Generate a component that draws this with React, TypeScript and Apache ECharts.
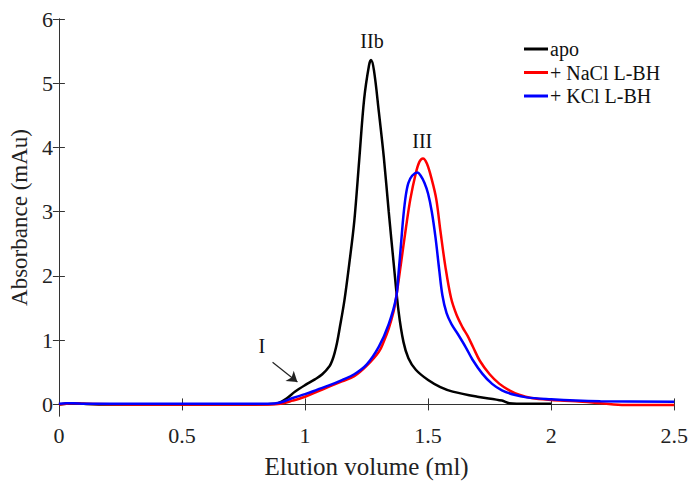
import React, { useEffect, useRef } from "react";
import * as echarts from "echarts";

const FONT = "'Liberation Serif', 'Times New Roman', serif";

const seriesNames = ["apo", "+ NaCl L-BH", "+ KCl L-BH"];

const apoX = [0, 0.03, 0.06, 0.1, 0.2, 0.4, 0.6, 0.8, 0.88, 0.92, 0.96, 1.0, 1.04, 1.07, 1.1, 1.11, 1.12, 1.13, 1.14, 1.16, 1.18, 1.2, 1.22, 1.24, 1.26, 1.268, 1.28, 1.3, 1.32, 1.34, 1.36, 1.38, 1.4, 1.42, 1.45, 1.5, 1.55, 1.6, 1.7, 1.8, 1.83, 1.9, 2.0];
const apoY = [0, 0.01, 0.02, 0.01, 0, 0, 0, 0, 0.01, 0.08, 0.2, 0.3, 0.39, 0.47, 0.6, 0.68, 0.8, 0.96, 1.17, 1.62, 2.2, 2.85, 3.8, 4.75, 5.28, 5.36, 5.2, 4.55, 3.85, 3.0, 2.2, 1.45, 0.97, 0.72, 0.54, 0.38, 0.27, 0.2, 0.12, 0.06, 0.02, 0.01, 0.01];

const naclX = [0, 0.03, 0.06, 0.1, 0.3, 0.6, 0.85, 0.9, 0.95, 1.0, 1.05, 1.1, 1.15, 1.2, 1.25, 1.3, 1.32, 1.34, 1.36, 1.37, 1.39, 1.41, 1.428, 1.45, 1.465, 1.479, 1.495, 1.515, 1.533, 1.55, 1.57, 1.593, 1.615, 1.64, 1.66, 1.683, 1.71, 1.75, 1.79, 1.83, 1.87, 1.92, 2.0, 2.1, 2.2, 2.3, 2.5];
const naclY = [0, 0.01, 0.02, 0.01, 0, 0, 0, 0.01, 0.06, 0.12, 0.2, 0.28, 0.36, 0.44, 0.6, 0.82, 0.98, 1.18, 1.45, 1.66, 2.2, 2.75, 3.2, 3.6, 3.78, 3.83, 3.75, 3.5, 3.2, 2.7, 2.15, 1.66, 1.4, 1.2, 1.07, 0.89, 0.68, 0.47, 0.32, 0.22, 0.15, 0.1, 0.07, 0.05, 0.02, -0.01, -0.01];

const kclX = [0, 0.03, 0.06, 0.1, 0.3, 0.6, 0.85, 0.9, 0.95, 1.0, 1.05, 1.1, 1.15, 1.2, 1.25, 1.3, 1.34, 1.37, 1.38, 1.39, 1.4, 1.41, 1.42, 1.435, 1.456, 1.47, 1.485, 1.5, 1.515, 1.53, 1.545, 1.558, 1.575, 1.595, 1.62, 1.653, 1.68, 1.72, 1.76, 1.8, 1.85, 1.9, 2.0, 2.1, 2.2, 2.5];
const kclY = [0.01, 0.02, 0.02, 0.01, 0.01, 0.01, 0.01, 0.03, 0.1, 0.16, 0.23, 0.3, 0.38, 0.47, 0.62, 0.9, 1.25, 1.66, 2.05, 2.5, 2.95, 3.27, 3.45, 3.56, 3.61, 3.56, 3.45, 3.28, 3.0, 2.6, 2.1, 1.7, 1.42, 1.25, 1.1, 0.89, 0.7, 0.48, 0.32, 0.22, 0.15, 0.11, 0.08, 0.06, 0.05, 0.04];

const xTicks = [0, 0.5, 1, 1.5, 2, 2.5];
const yTicks = [0, 1, 2, 3, 4, 5, 6];

const peakLabels = ["I", "IIb", "III"];
const peakLabelX = [0.824, 1.272, 1.476];
const peakLabelY = [0.914, 5.66, 4.1];
const arrowFrom = [0.868, 0.656];
const arrowTo = [0.969, 0.348];

const colors = ["#000000", "#ff0000", "#0000ff"];

const zip = (xs: number[], ys: number[]) => xs.map((x, i) => [x, ys[i]]);

export default function App() {
  const ref = useRef<HTMLDivElement>(null);
  useEffect(() => {
    if (!ref.current) return;
    const chart = echarts.init(ref.current, undefined, { renderer: "svg" });
    const axisLineStyle = { color: "#333", width: 1 };
    const baseSeries = (name: string, data: number[][], color: string, z: number) => ({
      name,
      type: "line",
      data,
      smooth: 0.35,
      showSymbol: false,
      symbol: "none",
      z,
      lineStyle: { color, width: 2.5 },
      itemStyle: { color },
      emphasis: { disabled: true },
    });
    const apo: any = baseSeries(seriesNames[0], zip(apoX, apoY), colors[0], 2);
    apo.markPoint = {
      silent: true,
      symbol: "circle",
      symbolSize: 0,
      label: {
        show: true,
        position: "inside",
        formatter: "{b}",
        color: "#111",
        fontSize: 20,
        fontFamily: FONT,
      },
      data: peakLabels.map((n, i) => ({ name: n, coord: [peakLabelX[i], peakLabelY[i]] })),
    };
    apo.markLine = {
      silent: true,
      symbol: ["none", "arrow"],
      symbolSize: 10,
      label: { show: false },
      lineStyle: { color: "#222", width: 1.2, type: "solid" },
      emphasis: { disabled: true },
      data: [[{ coord: arrowFrom }, { coord: arrowTo }]],
    };
    chart.setOption({
      animation: false,
      backgroundColor: "#fff",
      grid: { left: 56, right: 14, top: 19, bottom: 65, containLabel: false },
      legend: {
        orient: "vertical",
        left: 519,
        top: 34,
        itemWidth: 24,
        itemHeight: 3,
        itemGap: 3.5,
        icon: "rect",
        data: seriesNames,
        textStyle: {
          fontFamily: FONT,
          fontSize: 20,
          color: "#111",
          lineHeight: 20,
          padding: [0, 0, 0, -3],
        },
      },
      xAxis: [
        {
          type: "value",
          min: 0,
          max: 2.5,
          interval: 0.5,
          name: "Elution volume (ml)",
          nameLocation: "middle",
          nameGap: 38,
          nameTextStyle: { fontFamily: FONT, fontSize: 25, color: "#222" },
          axisLine: { show: true, lineStyle: axisLineStyle },
          axisTick: { show: true, inside: true, length: 6, lineStyle: axisLineStyle },
          axisLabel: {
            fontFamily: FONT,
            fontSize: 22,
            color: "#222",
            margin: 8,
            formatter: (v: number) => (xTicks.includes(v) ? String(v) : ""),
          },
          splitLine: { show: false },
        },
        {
          type: "value",
          position: "top",
          min: 0,
          max: 2.5,
          interval: 0.5,
          axisLine: { show: true, lineStyle: axisLineStyle },
          axisTick: { show: true, inside: true, length: 6, lineStyle: axisLineStyle },
          axisLabel: { show: false },
          splitLine: { show: false },
        },
      ],
      yAxis: [
        {
          type: "value",
          min: -0.18,
          max: 6,
          name: "Absorbance (mAu)",
          nameLocation: "middle",
          nameGap: 22,
          nameTextStyle: { fontFamily: FONT, fontSize: 23, color: "#222" },
          axisLine: { show: true, lineStyle: axisLineStyle },
          axisTick: { show: true, inside: true, length: 6, lineStyle: axisLineStyle, customValues: yTicks },
          axisLabel: {
            fontFamily: FONT,
            fontSize: 22,
            color: "#222",
            margin: 6,
            customValues: yTicks,
          },
          splitLine: { show: false },
        },
        {
          type: "value",
          position: "right",
          min: -0.18,
          max: 6,
          axisLine: { show: true, lineStyle: axisLineStyle },
          axisTick: { show: true, inside: true, length: 6, lineStyle: axisLineStyle, customValues: yTicks },
          axisLabel: { show: false },
          splitLine: { show: false },
        },
      ],
      series: [
        apo,
        baseSeries(seriesNames[1], zip(naclX, naclY), colors[1], 3),
        baseSeries(seriesNames[2], zip(kclX, kclY), colors[2], 4),
      ],
    });
    return () => chart.dispose();
  }, []);
  return (
    <div
      ref={ref}
      style={{ width: 691, height: 484, position: "absolute", left: 0, top: 0, background: "#fff" }}
    />
  );
}
